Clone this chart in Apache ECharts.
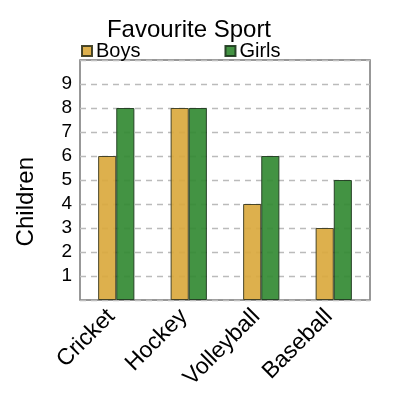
<!DOCTYPE html>
<html><head><meta charset="utf-8">
<script src="https://cdn.jsdelivr.net/npm/echarts@6/dist/echarts.min.js"></script>
<style>html,body{margin:0;padding:0;background:#fff}#c{width:400px;height:400px}</style>
</head><body><div id="c"></div>
<script>
const categories = ['Cricket', 'Hockey', 'Volleyball', 'Baseball'];
const boys = [6, 8, 4, 3];
const girls = [8, 8, 6, 5];
const yTicks = [1, 2, 3, 4, 5, 6, 7, 8, 9];

const chart = echarts.init(document.getElementById('c'), null, {renderer: 'canvas'});
const font = 'Liberation Sans, Arial, sans-serif';
chart.setOption({
  animation: false,
  title: {text: 'Favourite Sport', left: 184, top: 13, textAlign: 'center',
    textStyle: {fontFamily: font, fontSize: 24, fontWeight: 'normal', color: '#000'}},
  legend: {
    left: 76, top: 36, itemWidth: 10, itemHeight: 10, itemGap: 84, icon: 'rect',
    textStyle: {fontFamily: font, fontSize: 20, color: '#000', padding: [0, 0, 0, -1]},
    data: ['Boys', 'Girls']
  },
  graphic: [{type: 'text', left: 14, top: 157, rotation: Math.PI / 2,
    style: {text: 'Children', font: '24px ' + font, fill: '#000'}}],
  grid: {left: 80, right: 30, top: 60, bottom: 100, containLabel: false, show: true, borderColor: '#777', borderWidth: 1.5},
  xAxis: {
    type: 'category', data: categories,
    axisLine: {show: false}, axisTick: {show: false},
    axisLabel: {rotate: 45, fontFamily: font, fontSize: 23, color: '#000', margin: 8, interval: 0,
      padding: [0, 7, 0, 0]}
  },
  yAxis: {
    type: 'value', min: 0, max: 10, interval: 1,
    axisLine: {show: false}, axisTick: {show: false},
    axisLabel: {fontFamily: font, fontSize: 19, color: '#000', margin: 8,
      formatter: v => yTicks.includes(v) ? String(v) : ''},
    splitLine: {show: true, lineStyle: {type: [6, 5], color: '#bbb', width: 1.3}}
  },
  series: [
    {name: 'Boys', type: 'bar', data: boys, barWidth: '25%', barGap: '0%', z: 1,
      itemStyle: {color: '#DAA93E', borderColor: '#3a3a20', borderWidth: 1, opacity: 0.92}},
    {name: 'Girls', type: 'bar', data: girls, barWidth: '25%', z: 1,
      itemStyle: {color: '#338A33', borderColor: '#1f3a1f', borderWidth: 1, opacity: 0.92}}
  ]
});
</script></body></html>
